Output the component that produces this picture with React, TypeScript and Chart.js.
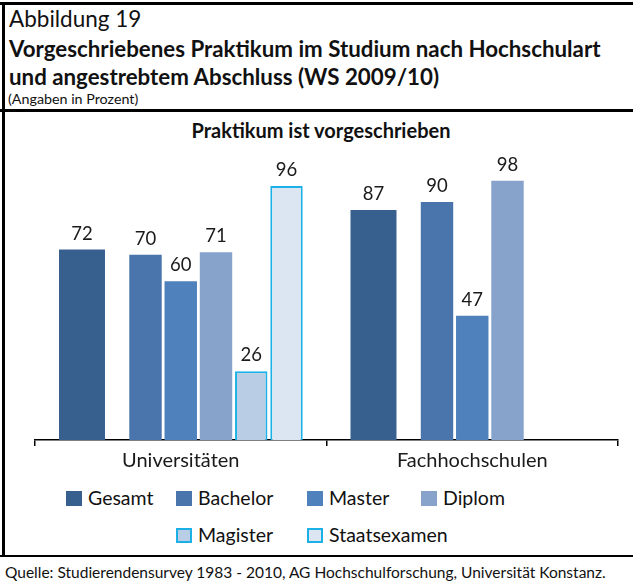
import React, { useEffect, useRef } from "react";
import { Chart, registerables } from "chart.js";

Chart.register(...registerables);

// ---------- data ----------
const categories = ["Universitäten", "Fachhochschulen"];
const seriesNames = ["Gesamt", "Bachelor", "Master", "Diplom", "Magister", "Staatsexamen"];
const gesamt = [72, 87];
const bachelor = [70, 90];
const master = [60, 47];
const diplom = [71, 98];
const magister: (number | null)[] = [26, null];
const staatsexamen: (number | null)[] = [96, null];
const yMin = 0;
const yMax = 100;

// ---------- styles ----------
const FONT = "Lato, 'Noto Sans', sans-serif";
const fills = ["#38608F", "#4A75AC", "#4F81BD", "#87A2CB", "#B9CDE5", "#DCE6F2"];
const borders = ["#38608F", "#4A75AC", "#4F81BD", "#87A2CB", "#1BB1E7", "#1BB1E7"];
const borderWidths = [0, 0, 0, 0, 2, 2];
const legendCols = [66, 176, 307, 421];
const legendRows = [491, 528];
const legendSlots = [
  [0, 0],
  [0, 1],
  [0, 2],
  [0, 3],
  [1, 1],
  [1, 2],
];

const seriesValues = [gesamt, bachelor, master, diplom, magister, staatsexamen];

const valueLabels = {
  id: "valueLabels",
  afterDatasetsDraw(chart: any) {
    const ctx = chart.ctx;
    ctx.save();
    ctx.font = `18.5px ${FONT}`;
    ctx.fillStyle = "#1a1a1a";
    ctx.textAlign = "center";
    ctx.textBaseline = "alphabetic";
    chart.data.datasets.forEach((ds: any, i: number) => {
      if (!ds.label) return;
      const meta = chart.getDatasetMeta(i);
      meta.data.forEach((bar: any, j: number) => {
        const v = ds.data[j];
        if (v === null || v === undefined) return;
        ctx.fillText(String(v), bar.x, bar.y - 10);
      });
    });
    ctx.restore();
  },
};

function ChartCanvas() {
  const ref = useRef<HTMLCanvasElement | null>(null);
  useEffect(() => {
    let chart: Chart | null = null;
    let cancelled = false;
    const make = () => {
      if (cancelled || !ref.current) return;
      const narrow = { categoryPercentage: 0.8465, barPercentage: 0.92 };
      const datasets: any[] = [];
      seriesNames.forEach((name, i) => {
        const base = i === 0 ? { categoryPercentage: 0.7905, barPercentage: 1.397 } : narrow;
        datasets.push({
          label: name,
          data: seriesValues[i],
          backgroundColor: fills[i],
          borderColor: borders[i],
          borderWidth: borderWidths[i],
          ...base,
        });
        if (i === 0) {
          // empty slot between "Gesamt" and the degree bars
          datasets.push({ label: "", data: categories.map(() => null), ...narrow });
        }
      });
      chart = new Chart(ref.current, {
        type: "bar",
        data: { labels: categories, datasets },
        plugins: [valueLabels],
        options: {
          animation: false,
          responsive: false,
          devicePixelRatio: 1,
          layout: { padding: { left: 35, right: 15, top: 62.5, bottom: 0 } },
          scales: {
            x: {
              offset: true,
              grid: {
                display: true,
                offset: true,
                drawOnChartArea: false,
                drawTicks: true,
                tickLength: 6,
                color: "#000",
                lineWidth: 1.5,
              },
              border: { display: true, color: "#000", width: 1.5 },
              ticks: { font: { family: FONT, size: 20 }, color: "#1a1a1a", padding: 3 },
            },
            y: { display: false, min: yMin, max: yMax },
          },
          plugins: {
            legend: { display: false },
            tooltip: { enabled: false },
            title: { display: false },
          },
        },
      });
    };
    const fontsApi = (document as any).fonts;
    if (fontsApi && fontsApi.load) {
      Promise.all([fontsApi.load(`18px Lato`), fontsApi.load(`bold 18px Lato`)])
        .catch(() => null)
        .then(make);
    } else {
      make();
    }
    return () => {
      cancelled = true;
      if (chart) chart.destroy();
    };
  }, []);
  return (
    <canvas
      ref={ref}
      width={633}
      height={363}
      style={{ position: "absolute", left: 0, top: 113, width: 633, height: 363 }}
    />
  );
}

export default function App() {
  const abs = (o: React.CSSProperties): React.CSSProperties => ({ position: "absolute", ...o });
  return (
    <div
      style={{
        position: "fixed",
        left: 0,
        top: 0,
        width: 633,
        height: 582,
        background: "#fff",
        overflow: "hidden",
        fontFamily: FONT,
        color: "#111",
      }}
    >
      {/* frame */}
      <div style={abs({ left: 0, top: 2, width: 633, height: 3, background: "#000" })} />
      <div style={abs({ left: 2, top: 2, width: 2.5, height: 554, background: "#000" })} />
      <div style={abs({ left: 0, top: 109, width: 633, height: 3, background: "#000" })} />
      <div style={abs({ left: 0, top: 555, width: 633, height: 2, background: "#000" })} />

      {/* header */}
      <div style={abs({ left: 9, top: 5.3, fontSize: 22.5, lineHeight: "27px", whiteSpace: "nowrap" })}>
        Abbildung 19
      </div>
      <div
        style={abs({ left: 9, top: 35.3, fontSize: 22.3, lineHeight: "27.5px", fontWeight: 700, whiteSpace: "nowrap" })}
      >
        Vorgeschriebenes Praktikum im Studium nach Hochschulart
        <br />
        und angestrebtem Abschluss (WS 2009/10)
      </div>
      <div style={abs({ left: 8, top: 89.9, fontSize: 14.3, lineHeight: "17.2px", whiteSpace: "nowrap" })}>
        (Angaben in Prozent)
      </div>

      {/* chart title */}
      <div
        style={abs({
          left: 0,
          width: 642,
          top: 117.8,
          fontSize: 20,
          lineHeight: "24px",
          fontWeight: 700,
          textAlign: "center",
          whiteSpace: "nowrap",
        })}
      >
        Praktikum ist vorgeschrieben
      </div>

      <ChartCanvas />

      {/* legend */}
      {seriesNames.map((name, i) => {
        const [r, c] = legendSlots[i];
        const x = legendCols[c];
        const y = legendRows[r];
        return (
          <React.Fragment key={name}>
            <div
              style={abs({
                left: x,
                top: y,
                width: 16,
                height: 15,
                boxSizing: "border-box",
                background: fills[i],
                border: borderWidths[i] ? `${borderWidths[i]}px solid ${borders[i]}` : "none",
              })}
            />
            <div
              style={abs({ left: x + 22, top: y - 4.8, fontSize: 19.5, lineHeight: "23.4px", whiteSpace: "nowrap" })}
            >
              {name}
            </div>
          </React.Fragment>
        );
      })}

      {/* footer */}
      <div style={abs({ left: 5, top: 562.7, fontSize: 15.5, lineHeight: "18.6px", whiteSpace: "nowrap" })}>
        Quelle: Studierendensurvey 1983 - 2010, AG Hochschulforschung, Universität Konstanz.
      </div>
    </div>
  );
}
